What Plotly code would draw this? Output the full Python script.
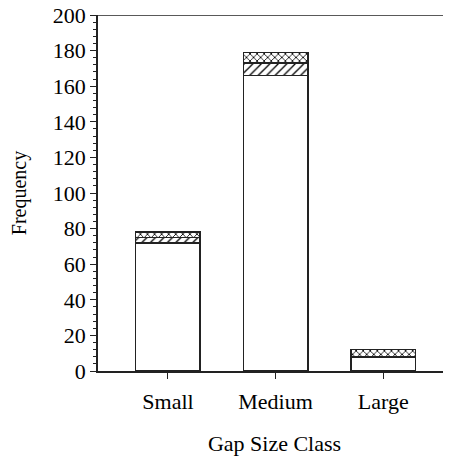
import plotly.graph_objects as go

categories = ["Small", "Medium", "Large"]
open_vals = [72, 166, 8]
diag_vals = [3, 7, 0]
cross_vals = [3, 6, 4]
y_ticks = [0, 20, 40, 60, 80, 100, 120, 140, 160, 180, 200]

LINE = "#222222"
FAM = "Liberation Serif"

fig = go.Figure()
fig.add_trace(go.Bar(x=categories, y=open_vals, width=0.6,
                     marker=dict(color="white", line=dict(color=LINE, width=1.5))))
fig.add_trace(go.Bar(x=categories, y=diag_vals, width=0.6,
                     marker=dict(color="white", line=dict(color=LINE, width=1.5),
                                 pattern=dict(shape="/", fgcolor="black", bgcolor="white",
                                              size=6, solidity=0.22))))
fig.add_trace(go.Bar(x=categories, y=cross_vals, width=0.6,
                     marker=dict(color="white", line=dict(color=LINE, width=1.5),
                                 pattern=dict(shape="x", fgcolor="black", bgcolor="white",
                                              size=5, solidity=0.3))))

fig.update_layout(
    template="none",
    barmode="stack", width=443, height=452, showlegend=False,
    margin=dict(l=90, r=0, t=7, b=89, autoexpand=False),
    plot_bgcolor="white", paper_bgcolor="white",
    font_family=FAM, font_size=22, font_color="black",
    shapes=[dict(type="line", xref="paper", yref="y", x0=0, x1=1, y0=200, y1=200,
                 line=dict(color=LINE, width=1.5))],
)
fig.update_xaxes(range=[-0.65, 2.63], showline=True, linecolor=LINE, linewidth=1.5,
                 ticks="outside", ticklen=6, tickcolor=LINE, showgrid=False,
                 automargin=False, ticklabelstandoff=4,
                 tickfont_family=FAM, tickfont_size=22,
                 title_text="Gap Size Class", title_standoff=22,
                 title_font_family=FAM, title_font_size=22)
fig.update_yaxes(range=[0, 200], tickvals=y_ticks, showline=True, linecolor=LINE,
                 linewidth=1.5, ticks="outside", ticklen=6, tickcolor=LINE,
                 showgrid=False, zeroline=False, automargin=False,
                 ticklabeloverflow="allow",
                 tickfont_family=FAM, tickfont_size=22,
                 minor=dict(dtick=4, ticklen=3, ticks="outside", tickcolor=LINE, showgrid=False),
                 title_text="Frequency", title_standoff=23,
                 title_font_family=FAM, title_font_size=20)
fig.write_html("out.html")
